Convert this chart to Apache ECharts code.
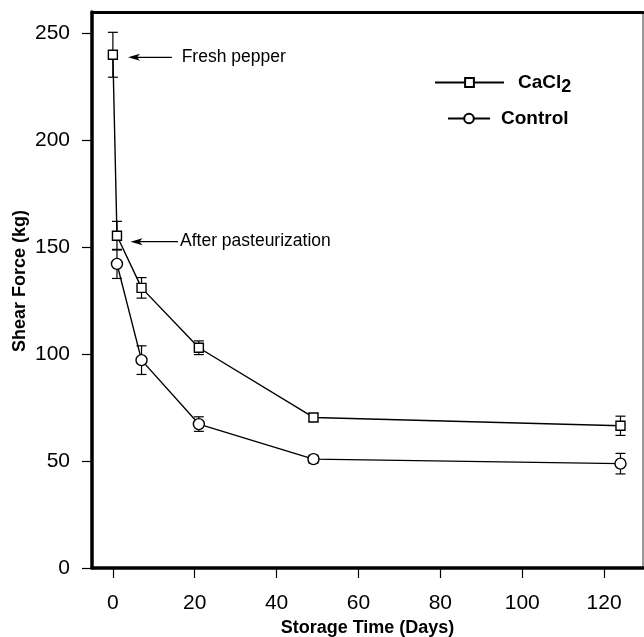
<!DOCTYPE html>
<html>
<head>
<meta charset="utf-8">
<script src="https://cdn.jsdelivr.net/npm/echarts@6/dist/echarts.min.js"></script>
<style>
  html, body { margin: 0; padding: 0; background: #fff; }
  #chart { width: 644px; height: 637px; }
</style>
</head>
<body>
<div id="chart"></div>
<script>
// Shear force of pepper during storage (mean ± error)
const cacl2Days = [0, 1, 7, 21, 49, 124];
const cacl2Force = [240, 155.4, 131, 103, 70.4, 66.5];
const cacl2Err = [10.5, 6.7, 4.8, 3.2, 1.8, 4.5];

const controlDays = [1, 7, 21, 49, 124];
const controlForce = [142.2, 97.2, 67.3, 50.9, 48.8];
const controlErr = [6.8, 6.7, 3.4, 1.8, 4.8];

const xTicks = [0, 20, 40, 60, 80, 100, 120];
const yTicks = [0, 50, 100, 150, 200, 250];

// Arrow notes (data units): arrow head, arrow tail, text start, height
const noteText = ['Fresh pepper', 'After pasteurization'];
const noteY = [238.8, 152.6];
const noteHead = [3.7, 4.3];
const noteTail = [14.4, 15.9];
const noteTextX = [16.8, 16.4];

const FONT = '"Liberation Sans", Arial, Helvetica, sans-serif';

function errorBars(params, api) {
  const x = api.value(0), y = api.value(1), e = api.value(2);
  const hi = api.coord([x, y + e]);
  const lo = api.coord([x, y - e]);
  const w = 5;
  const style = { stroke: '#000', lineWidth: 1.2 };
  return {
    type: 'group',
    children: [
      { type: 'line', shape: { x1: hi[0], y1: hi[1], x2: lo[0], y2: lo[1] }, style },
      { type: 'line', shape: { x1: hi[0] - w, y1: hi[1], x2: hi[0] + w, y2: hi[1] }, style },
      { type: 'line', shape: { x1: lo[0] - w, y1: lo[1], x2: lo[0] + w, y2: lo[1] }, style }
    ]
  };
}

function arrowNotes(params, api) {
  const i = params.dataIndex;
  const head = api.coord([noteHead[i], noteY[i]]);
  const tail = api.coord([noteTail[i], noteY[i]]);
  const tx = api.coord([noteTextX[i], noteY[i]])[0];
  const hx = head[0], hy = head[1];
  return {
    type: 'group',
    children: [
      { type: 'line', shape: { x1: hx + 6, y1: hy, x2: tail[0], y2: tail[1] },
        style: { stroke: '#000', lineWidth: 1.2 } },
      { type: 'polygon',
        shape: { points: [[hx, hy], [hx + 12, hy - 3.5], [hx + 9, hy], [hx + 12, hy + 3.5]] },
        style: { fill: '#000' } },
      { type: 'text', x: tx, y: hy,
        style: { text: noteText[i], fill: '#000', font: '17.5px ' + FONT,
                 textAlign: 'left', textVerticalAlign: 'middle' } }
    ]
  };
}

const chart = echarts.init(document.getElementById('chart'));

const legendRich = {
  b: { fontSize: 19, fontWeight: 'bold', fontFamily: FONT, color: '#000' },
  s: { fontSize: 18, fontWeight: 'bold', fontFamily: FONT, color: '#000', padding: [9, 0, 0, 0] }
};

chart.setOption({
  animation: false,
  backgroundColor: '#fff',
  grid: { left: 92, right: 1, top: 12, bottom: 69, containLabel: false, outerBoundsMode: 'none' },
  legend: [
    {
      data: ['CaCl2'], left: 434, top: 73, padding: 0,
      itemWidth: 69, itemHeight: 11, selectedMode: false,
      formatter: () => '{b|CaCl}{s|2}',
      textStyle: { rich: legendRich, padding: [0, 0, 0, 9] }
    },
    {
      data: ['Control'], left: 447, top: 109, padding: 0,
      itemWidth: 42, itemHeight: 12, selectedMode: false,
      formatter: () => '{b|Control}',
      textStyle: { rich: legendRich, padding: [0, 0, 0, 6] }
    }
  ],
  xAxis: [
    {
      type: 'value', min: -5.1, max: 129.5,
      splitLine: { show: false },
      axisLine: { onZero: false, lineStyle: { color: '#000', width: 3.5 } },
      axisTick: { show: true, length: 10, customValues: xTicks, lineStyle: { color: '#000', width: 1.2 } },
      axisLabel: { customValues: xTicks, margin: 25, color: '#000', fontSize: 21, fontFamily: FONT },
      name: 'Storage Time (Days)', nameLocation: 'middle', nameGap: 51,
      nameTextStyle: { color: '#000', fontSize: 18, fontWeight: 'bold', fontFamily: FONT }
    },
    {
      type: 'value', position: 'top', min: -5.1, max: 129.5,
      splitLine: { show: false },
      axisLine: { show: true, onZero: false, lineStyle: { color: '#000', width: 3.2 } },
      axisTick: { show: false }, axisLabel: { show: false }
    }
  ],
  yAxis: [
    {
      type: 'value', min: 0, max: 260,
      splitLine: { show: false },
      axisLine: { show: true, onZero: false, lineStyle: { color: '#000', width: 3.5 } },
      axisTick: { show: true, length: 10, customValues: yTicks, lineStyle: { color: '#000', width: 1.2 } },
      axisLabel: { customValues: yTicks, margin: 22, color: '#000', fontSize: 21, fontFamily: FONT },
      name: 'Shear Force (kg)', nameLocation: 'middle', nameGap: 63, nameMoveOverlap: false,
      nameTextStyle: { color: '#000', fontSize: 18, fontWeight: 'bold', fontFamily: FONT, padding: [0, 0, 0, 18] }
    },
    {
      type: 'value', position: 'right', min: 0, max: 260,
      splitLine: { show: false },
      axisLine: { show: true, onZero: false, lineStyle: { color: '#777', width: 1.5 } },
      axisTick: { show: false }, axisLabel: { show: false }
    }
  ],
  series: [
    {
      type: 'custom', name: 'cacl2-err', z: 1, silent: true,
      renderItem: errorBars, encode: { x: 0, y: 1 },
      data: cacl2Days.map((d, i) => [d, cacl2Force[i], cacl2Err[i]])
    },
    {
      type: 'custom', name: 'control-err', z: 1, silent: true,
      renderItem: errorBars, encode: { x: 0, y: 1 },
      data: controlDays.map((d, i) => [d, controlForce[i], controlErr[i]])
    },
    {
      type: 'line', name: 'CaCl2', z: 3,
      data: cacl2Days.map((d, i) => [d, cacl2Force[i]]),
      symbol: 'rect', symbolSize: 9, showAllSymbol: true,
      lineStyle: { color: '#000', width: 1.4 },
      itemStyle: { color: '#fff', borderColor: '#000', borderWidth: 1.4 }
    },
    {
      type: 'line', name: 'Control', z: 3,
      data: controlDays.map((d, i) => [d, controlForce[i]]),
      symbol: 'circle', symbolSize: 11, showAllSymbol: true,
      lineStyle: { color: '#000', width: 1.4 },
      itemStyle: { color: '#fff', borderColor: '#000', borderWidth: 1.4 }
    },
    {
      type: 'custom', name: 'notes', z: 4, silent: true,
      renderItem: arrowNotes, encode: { x: 0, y: 1 },
      data: noteY.map((y, i) => [noteHead[i], y])
    }
  ]
});
</script>
</body>
</html>
